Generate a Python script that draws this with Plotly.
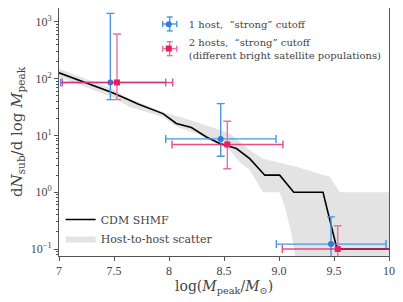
import plotly.graph_objects as go

# ---------------- data ----------------
# CDM SHMF median line
cdm_x = [7.0, 7.234, 7.476, 7.643, 7.718, 7.945, 8.067, 8.204, 8.34, 8.461, 8.552, 8.613,
         8.734, 8.871, 9.006, 9.134, 9.40, 9.527, 10.0]
cdm_y = [127, 87, 58, 41.6, 36, 24.3, 16.3, 13.8, 9.4, 7.2, 6.5, 5.9,
         3.9, 2.0, 2.0, 1.0, 1.0, 0.1, 0.1]

# host-to-host scatter band
band_up_x = [7.0, 7.476, 7.643, 7.945, 8.249, 8.552, 8.734, 8.855, 9.158, 9.370, 9.461, 9.552, 10.0]
band_up_y = [150, 67, 44.6, 26, 17.3, 10.8, 5.5, 3.9, 2.8, 2.15, 1.88, 1.0, 1.0]
band_lo_x = [7.0, 7.476, 7.643, 7.945, 8.067, 8.249, 8.552, 8.643, 8.734, 8.855, 9.006, 9.052,
             9.113, 9.143, 9.17, 10.0]
band_lo_y = [107, 48, 31.8, 21.2, 14.2, 10.8, 5.5, 3.4, 2.46, 1.0, 1.0, 0.56,
             0.19, 0.085, 0.01, 0.01]

# 1 host, "strong" cutoff
one_x = [7.467, 8.47, 9.473]
one_y = [86, 8.7, 0.122]
one_y_lo = [42.8, 4.3, 0.05]
one_y_hi = [1415, 36.4, 0.369]
one_x_lo = [7.015, 7.97, 8.976]
one_x_hi = [7.97, 8.973, 9.973]

# 2 hosts, "strong" cutoff
two_x = [7.527, 8.53, 9.534]
two_y = [86, 6.95, 0.1]
two_y_lo = [42.8, 2.6, 0.04]
two_y_hi = [615, 17.8, 0.257]
two_x_lo = [7.03, 8.027, 9.03]
two_x_hi = [8.034, 9.036, 10.04]

x_ticks = [7, 7.5, 8, 8.5, 9.0, 9.5, 10]
x_ticklabels = ["7", "7.5", "8", "8.5", "9.0", "9.5", "10"]
y_ticks = [0.1, 1, 10, 100, 1000]
y_ticklabels = ["10<sup>−1</sup>", "10<sup>0</sup>", "10<sup>1</sup>", "10<sup>2</sup>", "10<sup>3</sup>"]

# ---------------- figure ----------------
SERIF = "DejaVu Serif, serif"
TICKF = "Liberation Serif, serif"
TXT = "#444444"
BLUE = "#2b7fd8"
BLUE_ERR = "#4a94e0"
PINK = "#ea1e66"
PINK_ERR = "#f0709c"

fig = go.Figure()

fig.add_trace(go.Scatter(
    x=band_up_x + band_lo_x[::-1], y=band_up_y + band_lo_y[::-1],
    fill="toself", fillcolor="#e3e3e3", line=dict(width=0, color="#e3e3e3"),
    mode="lines", name="Host-to-host scatter", legend="legend2", legendrank=2,
    hoverinfo="skip"))

fig.add_trace(go.Scatter(
    x=cdm_x, y=cdm_y, mode="lines", line=dict(color="black", width=1.6),
    name="CDM SHMF", legend="legend2", legendrank=1))

def err(vals, lo, hi):
    return [h - v for v, h in zip(vals, hi)], [v - l for v, l in zip(vals, lo)]

oy_p, oy_m = err(one_y, one_y_lo, one_y_hi)
ox_p, ox_m = err(one_x, one_x_lo, one_x_hi)
ty_p, ty_m = err(two_y, two_y_lo, two_y_hi)
tx_p, tx_m = err(two_x, two_x_lo, two_x_hi)

fig.add_trace(go.Scatter(
    x=one_x, y=one_y, mode="markers",
    marker=dict(color=BLUE, size=6, symbol="circle"),
    error_y=dict(type="data", array=oy_p, arrayminus=oy_m, color=BLUE_ERR, thickness=1.4, width=4),
    error_x=dict(type="data", array=ox_p, arrayminus=ox_m, color=BLUE_ERR, thickness=1.4, width=4),
    name="1 host,  “strong” cutoff", legend="legend"))

fig.add_trace(go.Scatter(
    x=two_x, y=two_y, mode="markers",
    marker=dict(color=PINK, size=6, symbol="square"),
    error_y=dict(type="data", array=ty_p, arrayminus=ty_m, color=PINK_ERR, thickness=1.4, width=4),
    error_x=dict(type="data", array=tx_p, arrayminus=tx_m, color="rgba(234,30,102,0.8)", thickness=1.4, width=4),
    name="2 hosts,  “strong” cutoff<br>(different bright satellite populations)", legend="legend3"))

axis_common = dict(showline=True, linecolor="#555555", linewidth=1, mirror=True,
                   ticks="outside", tickcolor="#555555", ticklen=4, showgrid=False,
                   zeroline=False, automargin=False,
                   tickfont=dict(family=TICKF, size=12, color=TXT))

fig.update_xaxes(range=[7, 10], tickvals=x_ticks, ticktext=x_ticklabels, **axis_common)
fig.update_yaxes(type="log", range=[-1.123, 3.246], tickvals=y_ticks, ticktext=y_ticklabels,
                 minor=dict(ticks="outside", ticklen=2, tickcolor="#555555", dtick="D1", showgrid=False),
                 **axis_common)

# axis titles as annotations for exact placement
fig.add_annotation(text="log(<i>M</i><sub>peak</sub>/<i>M</i><sub>⊙</sub>)",
                   xref="paper", yref="paper", x=0.5, y=0, xanchor="center", yanchor="middle",
                   yshift=-31, showarrow=False, font=dict(family=SERIF, size=14, color=TXT))
fig.add_annotation(text="d<i>N</i><sub>sub</sub>/d log <i>M</i><sub>peak</sub>",
                   xref="paper", yref="paper", x=0, y=0.5, xanchor="center", yanchor="middle",
                   xshift=-42, textangle=-90, showarrow=False,
                   font=dict(family=SERIF, size=15, color=TXT))

# error-bar glyphs in the upper legend
def legend_cross(cx, cy, color):
    hx, hy, cxw, cyw = 0.0212, 0.0282, 0.009, 0.012
    segs = [(cx - hx, cy, cx + hx, cy), (cx, cy - hy, cx, cy + hy),
            (cx - cxw, cy + hy, cx + cxw, cy + hy), (cx - cxw, cy - hy, cx + cxw, cy - hy),
            (cx - hx, cy - cyw, cx - hx, cy + cyw), (cx + hx, cy - cyw, cx + hx, cy + cyw)]
    for x0, y0, x1, y1 in segs:
        fig.add_shape(type="line", xref="paper", yref="paper", x0=x0, y0=y0, x1=x1, y1=y1,
                      line=dict(color=color, width=1.4))

legend_cross(0.3355, 0.9356, BLUE_ERR)
legend_cross(0.3355, 0.836, PINK_ERR)

# page body has an 8px margin, so the figure is drawn 8px in from the top-left corner
fig.update_layout(
    width=395, height=294,
    margin=dict(l=51.3, r=13.7, t=0, b=45.7),
    paper_bgcolor="white", plot_bgcolor="white",
    font=dict(family=SERIF, color=TXT),
    legend=dict(x=0.272, y=0.993, xanchor="left", yanchor="top",
                bgcolor="rgba(0,0,0,0)", font=dict(family=SERIF, size=10, color=TXT),
                itemwidth=30),
    legend3=dict(x=0.272, y=0.915, xanchor="left", yanchor="top",
                 bgcolor="rgba(0,0,0,0)", font=dict(family=SERIF, size=10, color=TXT),
                 itemwidth=30, valign="middle"),
    legend2=dict(x=0.005, y=0.012, xanchor="left", yanchor="bottom",
                 bgcolor="rgba(0,0,0,0)", font=dict(family=SERIF, size=11, color=TXT),
                 itemwidth=30),
    showlegend=True,
)

fig.write_html("out.html")
